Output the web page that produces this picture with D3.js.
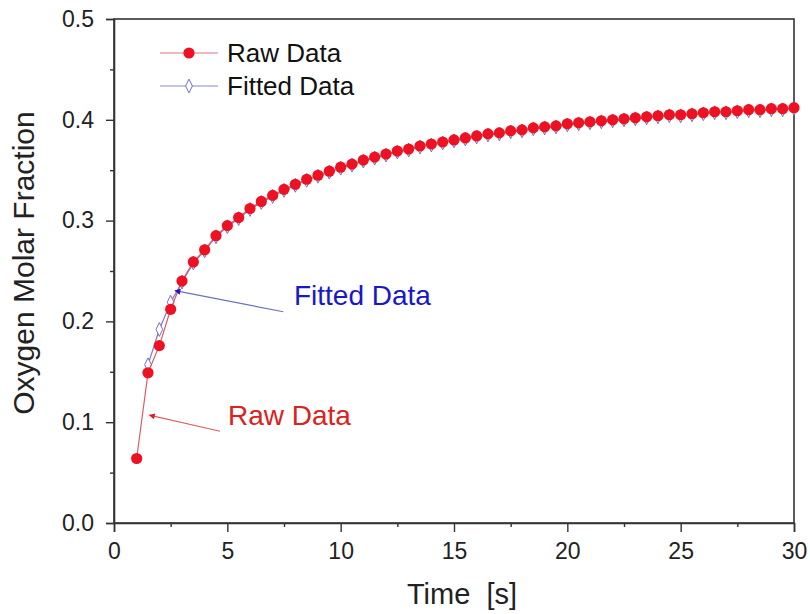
<!DOCTYPE html>
<html>
<head>
<meta charset="utf-8">
<script src="https://cdn.jsdelivr.net/npm/d3@7"></script>
<style>
  html, body { margin: 0; padding: 0; background: #fff; }
  svg { display: block; font-family: Arial, "Liberation Sans", sans-serif; }
</style>
</head>
<body>
<svg id="chart" width="810" height="614"></svg>
<script>
// ---- data ----
const rawTime = [1, 1.5, 2, 2.5, 3, 3.5, 4, 4.5, 5, 5.5, 6, 6.5, 7, 7.5, 8, 8.5, 9, 9.5, 10,
  10.5, 11, 11.5, 12, 12.5, 13, 13.5, 14, 14.5, 15, 15.5, 16, 16.5, 17, 17.5, 18, 18.5, 19, 19.5, 20,
  20.5, 21, 21.5, 22, 22.5, 23, 23.5, 24, 24.5, 25, 25.5, 26, 26.5, 27, 27.5, 28, 28.5, 29, 29.5, 30];
const rawValues = [0.064, 0.149, 0.176, 0.212, 0.240, 0.259, 0.271, 0.285, 0.295, 0.303, 0.312, 0.319, 0.325, 0.331, 0.336, 0.341, 0.345, 0.349, 0.353,
  0.356, 0.360, 0.363, 0.366, 0.369, 0.371, 0.374, 0.376, 0.378, 0.380, 0.382, 0.384, 0.386, 0.387, 0.389, 0.390, 0.392, 0.393, 0.394, 0.396,
  0.397, 0.398, 0.399, 0.400, 0.401, 0.402, 0.403, 0.404, 0.405, 0.405, 0.406, 0.407, 0.408, 0.408, 0.409, 0.410, 0.410, 0.411, 0.411, 0.412];
const fitTime = [1.5, 2, 2.5, 3, 3.5, 4, 4.5, 5, 5.5, 6, 6.5, 7, 7.5, 8, 8.5, 9, 9.5, 10,
  10.5, 11, 11.5, 12, 12.5, 13, 13.5, 14, 14.5, 15, 15.5, 16, 16.5, 17, 17.5, 18, 18.5, 19, 19.5, 20,
  20.5, 21, 21.5, 22, 22.5, 23, 23.5, 24, 24.5, 25, 25.5, 26, 26.5, 27, 27.5, 28, 28.5, 29, 29.5, 30];
const fitValues = [0.157, 0.192, 0.219, 0.239, 0.258, 0.270, 0.284, 0.294, 0.302, 0.311, 0.318, 0.324, 0.330, 0.335, 0.340, 0.344, 0.348, 0.352,
  0.355, 0.359, 0.362, 0.365, 0.368, 0.370, 0.373, 0.375, 0.377, 0.379, 0.381, 0.383, 0.385, 0.386, 0.388, 0.389, 0.391, 0.392, 0.393, 0.395,
  0.396, 0.397, 0.398, 0.399, 0.400, 0.401, 0.402, 0.403, 0.404, 0.404, 0.405, 0.406, 0.407, 0.407, 0.408, 0.409, 0.409, 0.410, 0.410, 0.411];
const xTicks = [0, 5, 10, 15, 20, 25, 30];
const xMinorTicks = [2.5, 7.5, 12.5, 17.5, 22.5, 27.5];
const yTicks = [0.0, 0.1, 0.2, 0.3, 0.4, 0.5];
const yMinorTicks = [0.05, 0.15, 0.25, 0.35, 0.45];
const seriesNames = ["Raw Data", "Fitted Data"];
// annotation text and arrow positions, in data units
const annotations = [
  { label: "Raw Data", tx: 5.03, ty: 0.097, x1: 4.68, y1: 0.091, x2: 1.56, y2: 0.107, color: "#dd2020", line: "#e06060" },
  { label: "Fitted Data", tx: 7.94, ty: 0.216, x1: 7.47, y1: 0.2096, x2: 2.69, y2: 0.2305, color: "#1818c8", line: "#6a72b8" }
];

// ---- layout ----
const margin = { left: 114, right: 16, top: 19, bottom: 91 };
const W = 810, H = 614;
const x = d3.scaleLinear().domain([0, 30]).range([margin.left, W - margin.right]);
const y = d3.scaleLinear().domain([0, 0.5]).range([H - margin.bottom, margin.top]);
const svg = d3.select("#chart");
const axisColor = "#333";

const raw = rawTime.map((t, i) => ({ t, v: rawValues[i] }));
const fit = fitTime.map((t, i) => ({ t, v: fitValues[i] }));

// frame
svg.append("rect")
  .attr("x", x(0)).attr("y", y(0.5))
  .attr("width", x(30) - x(0)).attr("height", y(0) - y(0.5))
  .attr("fill", "none").attr("stroke", axisColor).attr("stroke-width", 1.6);

// x axis
svg.append("g").attr("transform", `translate(0,${y(0)})`)
  .call(d3.axisBottom(x).tickValues(xTicks).tickFormat(d3.format("d")).tickSize(9).tickPadding(11));
svg.append("g").attr("transform", `translate(0,${y(0)})`)
  .call(d3.axisBottom(x).tickValues(xMinorTicks).tickFormat("").tickSize(4))
  .call(g => g.select(".domain").remove());
// y axis
svg.append("g").attr("transform", `translate(${x(0)},0)`)
  .call(d3.axisLeft(y).tickValues(yTicks).tickFormat(d3.format(".1f")).tickSize(8).tickPadding(12));
svg.append("g").attr("transform", `translate(${x(0)},0)`)
  .call(d3.axisLeft(y).tickValues(yMinorTicks).tickFormat("").tickSize(4))
  .call(g => g.select(".domain").remove());

svg.selectAll(".tick line").attr("stroke", axisColor).attr("stroke-width", 1.4);
svg.selectAll(".domain").attr("stroke", axisColor).attr("stroke-width", 1.6);
svg.selectAll(".tick text").attr("fill", "#222").style("font-size", "23px");

// axis titles
svg.append("text")
  .attr("x", x(15) + 8).attr("y", 604)
  .attr("text-anchor", "middle").attr("fill", "#222")
  .style("font-size", "29px").attr("xml:space", "preserve")
  .text("Time  [s]");
svg.append("text")
  .attr("transform", `translate(34,263) rotate(-90)`)
  .attr("text-anchor", "middle").attr("fill", "#222")
  .style("font-size", "30px")
  .text("Oxygen Molar Fraction");

// lines
const line = d3.line().x(d => x(d.t)).y(d => y(d.v));
const fitColor = "#6262c8", rawColor = "#ee1122";
const diamond = d3.symbol().type(d3.symbolDiamond).size(55);

svg.append("path").datum(fit).attr("d", line)
  .attr("fill", "none").attr("stroke", "#7b7bd0").attr("stroke-width", 1.2);
svg.append("g").selectAll("path").data(fit).join("path")
  .attr("d", diamond)
  .attr("transform", d => `translate(${x(d.t)},${y(d.v)}) scale(0.85,1)`)
  .attr("fill", "#fff").attr("stroke", fitColor).attr("stroke-width", 1);

svg.append("path").datum(raw).attr("d", line)
  .attr("fill", "none").attr("stroke", "#e05a66").attr("stroke-width", 1.2);
svg.append("g").selectAll("circle").data(raw).join("circle")
  .attr("cx", d => x(d.t)).attr("cy", d => y(d.v)).attr("r", 5.6)
  .attr("fill", rawColor);

// legend
const legend = svg.append("g");
const legendItems = [
  { name: seriesNames[0], ly: 53, lineColor: "#e07080", kind: "circle" },
  { name: seriesNames[1], ly: 86, lineColor: "#8a8ad4", kind: "diamond" }
];
legendItems.forEach(it => {
  legend.append("line").attr("x1", 160).attr("x2", 218).attr("y1", it.ly).attr("y2", it.ly)
    .attr("stroke", it.lineColor).attr("stroke-width", 1.2);
  if (it.kind === "circle") {
    legend.append("circle").attr("cx", 189).attr("cy", it.ly).attr("r", 5.6).attr("fill", rawColor);
  } else {
    legend.append("path").attr("d", diamond)
      .attr("transform", `translate(189,${it.ly}) scale(0.85,1)`)
      .attr("fill", "#fff").attr("stroke", fitColor).attr("stroke-width", 1);
  }
  legend.append("text").attr("x", 227).attr("y", it.ly + 9)
    .attr("fill", "#111").style("font-size", "26px").text(it.name);
});

// annotations with arrows
const defs = svg.append("defs");
annotations.forEach((a, i) => {
  defs.append("marker").attr("id", "arrow" + i)
    .attr("viewBox", "0 0 10 10").attr("refX", 9).attr("refY", 5)
    .attr("markerWidth", 9).attr("markerHeight", 6).attr("markerUnits", "userSpaceOnUse")
    .attr("orient", "auto")
    .append("path").attr("d", "M0,0 L10,5 L0,10 z").attr("fill", a.color);
  svg.append("line")
    .attr("x1", x(a.x1)).attr("y1", y(a.y1)).attr("x2", x(a.x2)).attr("y2", y(a.y2))
    .attr("stroke", a.line).attr("stroke-width", 1.2)
    .attr("marker-end", `url(#arrow${i})`);
  svg.append("text").attr("x", x(a.tx)).attr("y", y(a.ty))
    .attr("fill", a.color).style("font-size", "28px").text(a.label);
});
</script>
</body>
</html>
